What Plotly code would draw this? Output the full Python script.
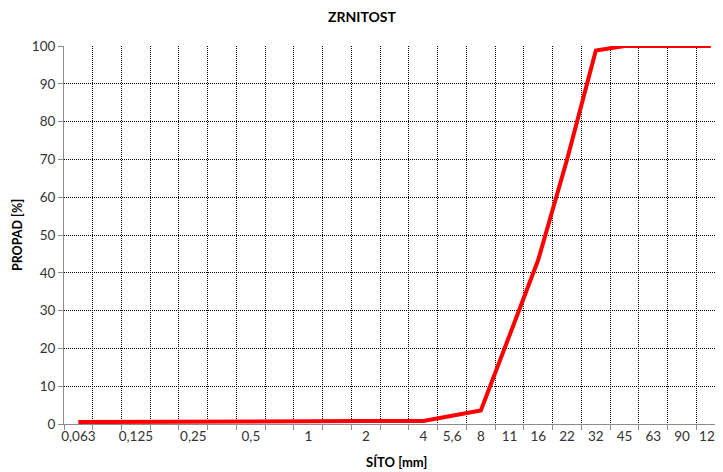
import plotly.graph_objects as go

# sieve categories (blank = unlabeled intermediate category on the axis)
sieve_labels = ["0,063", "", "0,125", "", "0,25", "", "0,5", "", "1", "", "2", "",
                "4", "5,6", "8", "11", "16", "22", "32", "45", "63", "90", "125"]
measured_sieves = ["0,063", "0,125", "0,25", "0,5", "1", "2", "4", "5,6", "8",
                   "11", "16", "22", "32", "45", "63", "90", "125"]
propad = [0.5, 0.6, 0.7, 0.7, 0.7, 0.8, 0.8, 2.2, 3.6,
          23.5, 43.5, 70.0, 98.8, 100, 100, 100, 100]

FONT = "Lato, 'Open Sans', sans-serif"
TXT = "#333333"
AXIS = "#8c8c8c"
GRID_DASH = "1px,1px"

x_pos = [sieve_labels.index(s) for s in measured_sieves]
boundaries = [i - 0.5 for i in range(len(sieve_labels) + 1)]

fig = go.Figure()
fig.add_trace(go.Scatter(
    x=x_pos, y=propad, mode="lines",
    line=dict(color="#ff0000", width=4),
    showlegend=False, hoverinfo="skip",
))

# page body has an 8px margin, so the figure is sized/offset for that
fig.update_layout(
    width=715, height=464,
    margin=dict(l=56, r=0, t=38, b=48),
    plot_bgcolor="white", paper_bgcolor="white",
    font=dict(family=FONT, size=13, color=TXT),
    title=dict(text="<b>ZRNITOST</b>", x=0.495, xanchor="center", y=0.981, yanchor="middle",
               font=dict(family=FONT, size=14, color="black")),
)

fig.update_xaxes(
    range=[-0.5, 22.18],
    tickmode="array", tickvals=x_pos, ticktext=measured_sieves,
    ticks="", showgrid=False, zeroline=False,
    showline=True, linecolor=AXIS, linewidth=1,
    tickfont=dict(size=13.5, color=TXT), ticklabeloverflow="allow",
    minor=dict(tickvals=boundaries, ticks="outside", ticklen=5, tickcolor=AXIS,
               showgrid=True, gridcolor="black", griddash=GRID_DASH, gridwidth=1),
)
fig.update_yaxes(
    range=[0, 100], dtick=10,
    showgrid=True, gridcolor="black", griddash=GRID_DASH, gridwidth=1,
    zeroline=False, showline=True, linecolor=AXIS, linewidth=1,
    ticks="outside", ticklen=5, tickcolor=AXIS,
    tickfont=dict(size=13.5, color=TXT),
    title=dict(text="<b>PROPAD [%]</b>", standoff=6,
               font=dict(family=FONT, size=12.5, color="black")),
)

fig.add_annotation(
    text="<b>SÍTO [mm]</b>", xref="paper", yref="paper",
    x=0.51, y=-0.1, xanchor="center", yanchor="middle", showarrow=False,
    font=dict(family=FONT, size=13, color="black"),
)

fig.write_html("out.html")
